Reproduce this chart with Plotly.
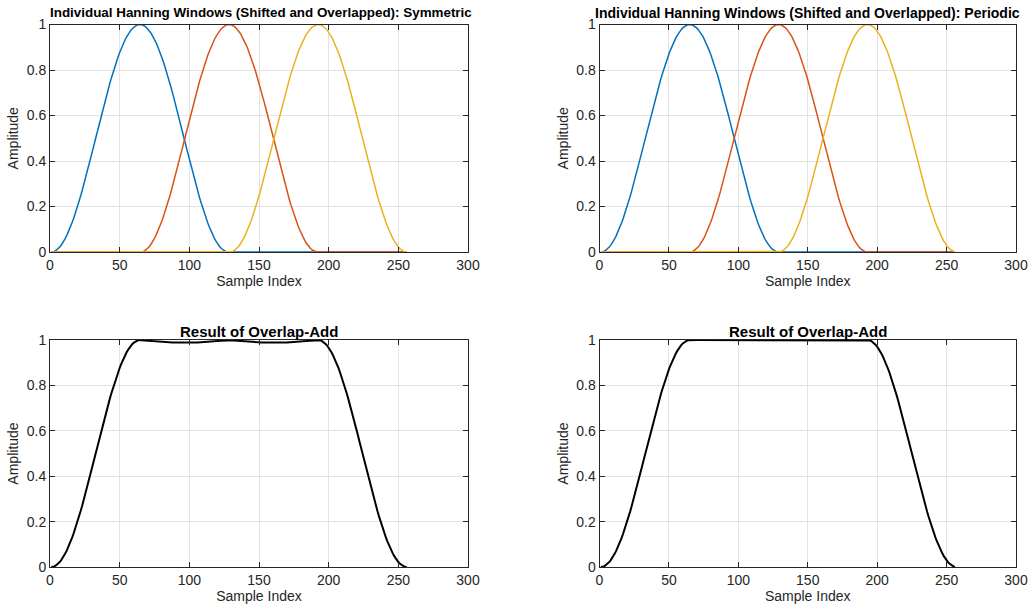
import numpy as np
import plotly.graph_objects as go

# Window setup: three Hanning windows of length 128, hop 64, over 256 samples
win_len = 128
hop = 64
n_windows = 3
total_len = 256
sample_index = np.arange(1, total_len + 1)

win_colors = ["#0072BD", "#D95319", "#EDB120"]
x_ticks = [0, 50, 100, 150, 200, 250, 300]
y_ticks = [0, 0.2, 0.4, 0.6, 0.8, 1]
y_tick_labels = ["0", "0.2", "0.4", "0.6", "0.8", "1"]

titles = [
    "Individual Hanning Windows (Shifted and Overlapped): Symmetric",
    "Individual Hanning Windows (Shifted and Overlapped): Periodic",
    "Result of Overlap-Add",
    "Result of Overlap-Add",
]
title_sizes = [13.4, 14, 15, 15]


def hann_window(n, periodic):
    k = np.arange(n)
    denom = n if periodic else n - 1
    return 0.5 * (1 - np.cos(2 * np.pi * k / denom))


def shifted_windows(periodic):
    w = hann_window(win_len, periodic)
    frames = []
    for i in range(n_windows):
        frame = np.zeros(total_len)
        frame[i * hop:i * hop + win_len] = w
        frames.append(frame)
    return frames


sym_frames = shifted_windows(False)
per_frames = shifted_windows(True)
sym_sum = np.sum(sym_frames, axis=0)
per_sum = np.sum(per_frames, axis=0)

W, H = 1029, 609
# plot-area boxes in pixels: (left, right, top, bottom)
boxes = [
    (50, 468, 24.5, 252),
    (599.5, 1016, 24.5, 252),
    (50, 468, 340, 567),
    (599.5, 1016, 340, 567),
]
title_gap = [12, 12, 9, 9]
title_dx = [2, 0, 0, 0]

fig = go.Figure()
font_family = "Liberation Sans, Arial, Helvetica, sans-serif"
axis_color = "#262626"
grid_color = "#e3e3e3"
fs = 14

layout = dict(
    width=W, height=H,
    margin=dict(l=0, r=0, t=0, b=0, autoexpand=False),
    paper_bgcolor="white", plot_bgcolor="white",
    showlegend=False,
    font=dict(family=font_family, size=fs, color=axis_color),
)
annotations = []

for i, (l, r, t, b) in enumerate(boxes):
    suffix = "" if i == 0 else str(i + 1)
    xd = [l / W, r / W]
    yd = [1 - b / H, 1 - t / H]
    layout["xaxis" + suffix] = dict(
        domain=xd, range=[0, 300], tickvals=x_ticks,
        showgrid=True, gridcolor=grid_color, gridwidth=1,
        zeroline=False, showline=True, linecolor=axis_color, linewidth=1,
        mirror="allticks", ticks="inside", ticklen=5, tickcolor=axis_color,
        tickfont=dict(size=fs, color=axis_color), automargin=False,
        title=dict(text="Sample Index", font=dict(size=fs), standoff=2),
        anchor="y" + suffix,
    )
    layout["yaxis" + suffix] = dict(
        domain=yd, range=[0, 1], tickvals=y_ticks, ticktext=y_tick_labels,
        showgrid=True, gridcolor=grid_color, gridwidth=1,
        zeroline=False, showline=True, linecolor=axis_color, linewidth=1,
        mirror="allticks", ticks="inside", ticklen=5, tickcolor=axis_color,
        tickfont=dict(size=fs, color=axis_color), automargin=False,
        title=dict(text="Amplitude", font=dict(size=fs), standoff=4),
        anchor="x" + suffix,
    )
    annotations.append(dict(
        text="<b>" + titles[i] + "</b>", xref="paper", yref="paper",
        x=((l + r) / 2 + title_dx[i]) / W, y=1 - (t - title_gap[i]) / H,
        xanchor="center", yanchor="middle",
        showarrow=False, font=dict(size=title_sizes[i], color="black"),
    ))

layout["annotations"] = annotations
fig.update_layout(**layout)

for j, frame in enumerate(sym_frames):
    fig.add_trace(go.Scatter(x=sample_index, y=frame, mode="lines",
                             line=dict(color=win_colors[j], width=1.5),
                             xaxis="x", yaxis="y"))
for j, frame in enumerate(per_frames):
    fig.add_trace(go.Scatter(x=sample_index, y=frame, mode="lines",
                             line=dict(color=win_colors[j], width=1.5),
                             xaxis="x2", yaxis="y2"))
fig.add_trace(go.Scatter(x=sample_index, y=sym_sum, mode="lines",
                         line=dict(color="black", width=2),
                         xaxis="x3", yaxis="y3"))
fig.add_trace(go.Scatter(x=sample_index, y=per_sum, mode="lines",
                         line=dict(color="black", width=2),
                         xaxis="x4", yaxis="y4"))

fig.write_html("out.html")
